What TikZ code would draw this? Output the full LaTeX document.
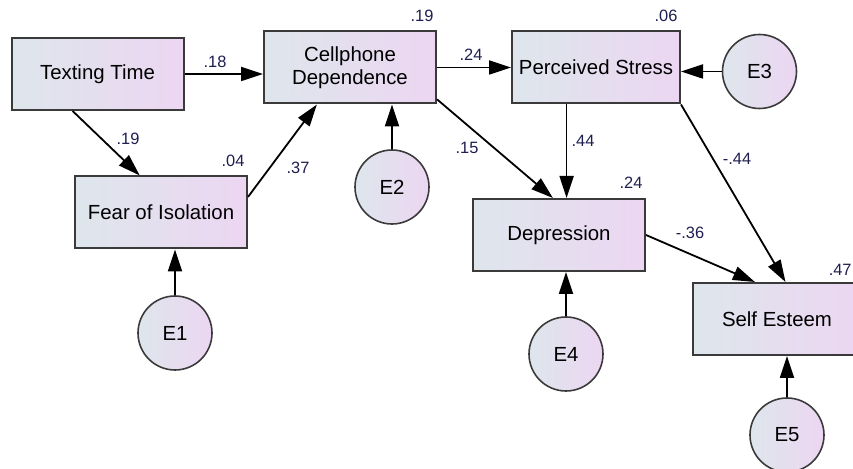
\documentclass[tikz,border=0pt]{standalone}
\usepackage{fontspec}
\setmainfont{Liberation Sans}
\usepackage{tikz}
\usetikzlibrary{arrows.meta,calc}
\definecolor{boxleft}{RGB}{222,230,236}
\definecolor{boxright}{RGB}{236,214,242}
\definecolor{edgegray}{RGB}{58,58,58}
\definecolor{coefblue}{RGB}{30,30,80}

\begin{document}
\begin{tikzpicture}[x=0.5pt,y=-0.5pt,
	obs/.style={draw=edgegray, line width=1pt, left color=boxleft, right color=boxright,
		minimum width=86pt, minimum height=36pt, align=center,
		font=\fontsize{10.2}{11.7}\selectfont},
	err/.style={circle, draw=edgegray, line width=0.8pt, left color=boxleft, right color=boxright,
		minimum size=37pt, inner sep=0pt, font=\fontsize{10.2}{11.7}\selectfont},
	reg/.style={line width=0.9pt, -{Triangle[length=11pt,width=7pt]}},
	coef/.style={text=coefblue, inner sep=0pt, font=\fontsize{8.2}{9}\selectfont}]
	\useasboundingbox (0,0) rectangle (853,469);
	\clip (0,0) rectangle (853,469);
	
	% observed variables
	\node[obs] (text) at (97.5,74) {Texting Time};
	\node[obs] (cell) at (350,67.5) {Cellphone\\Dependence};
	\node[obs, minimum width=84pt] (stress) at (596,67.5) {Perceived Stress};
	\node[obs] (fear) at (161,212.5) {Fear of Isolation};
	\node[obs] (dep) at (559,235) {Depression};
	\node[obs, minimum width=84pt] (esteem) at (777,319) {Self Esteem};
	
	% error terms
	\node[err] (e1) at (175,333) {E1};
	\node[err] (e2) at (392,187) {E2};
	\node[err] (e3) at (759.5,71.5) {E3};
	\node[err] (e4) at (566,354) {E4};
	\node[err] (e5) at (787,435) {E5};
	
	% squared multiple correlations
	\foreach \v/\r in {cell/.19, stress/.06, fear/.04, dep/.24}
		\node[coef] (r2-\v) at ([shift={(-15,-15)}]\v.north east) {\r};
	\node[coef, anchor=east] (r2-esteem) at (852,270) {.47};
	
	% paths
	\coordinate (s1) at ($(stress.south west)!0.327!(stress.south east)$);
	\draw[reg] (text.east) -- (text.east -| cell.west);
	\draw[reg] ($(text.south west)!0.357!(text.south east)$) -- ($(fear.north west)!0.378!(fear.north east)$);
	\draw[reg] ($(fear.north east)!0.29!(fear.south east)$) -- ($(cell.south west)!0.31!(cell.south east)$);
	\draw[reg] (cell.east) -- (stress.west);
	\draw[reg] ($(cell.north east)!0.93!(cell.south east)$) -- ($(dep.north west)!0.465!(dep.north east)$);
	\draw[reg] (s1) -- (s1 |- dep.north);
	\draw[reg] (stress.south east) -- ($(esteem.north west)!0.55!(esteem.north east)$);
	\draw[reg] (dep.east) -- ($(esteem.north west)!0.37!(esteem.north east)$);
	
	\draw[reg] (e1) -- (e1 |- fear.south);
	\draw[reg] (e2) -- (e2 |- cell.south);
	\draw[reg] (e3) -- (e3 -| stress.east);
	\draw[reg] (e4) -- (e4 |- dep.south);
	\draw[reg] (e5) -- (e5 |- esteem.south);
	
	% path coefficients
	\node[coef] (b1) at (215,62) {.18};
	\node[coef] (b2) at (128,139) {.19};
	\node[coef] (b3) at (298,168) {.37};
	\node[coef] (b4) at (471,55) {.24};
	\node[coef] (b5) at (467,148) {.15};
	\node[coef] (b6) at (583,141) {.44};
	\node[coef] (b7) at (737,159) {-.44};
	\node[coef] (b8) at (690,233) {-.36};
\end{tikzpicture}
\end{document}
